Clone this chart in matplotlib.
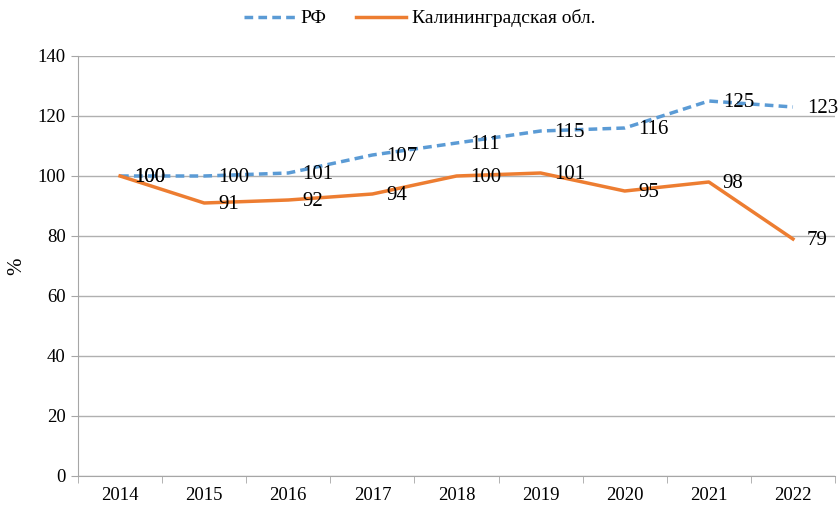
import matplotlib
matplotlib.use("Agg")
import matplotlib.pyplot as plt
import numpy as np

years = ["2014", "2015", "2016", "2017", "2018", "2019", "2020", "2021", "2022"]
rf = [100, 100, 101, 107, 111, 115, 116, 125, 123]
kal = [100, 91, 92, 94, 100, 101, 95, 98, 79]
rf_name = "РФ"
kal_name = "Калининградская обл."
yticks = [0, 20, 40, 60, 80, 100, 120, 140]

plt.rcParams['font.family'] = ['Liberation Serif', 'DejaVu Serif']

fig = plt.figure(figsize=(8.4, 5.07), dpi=100)
ax = fig.add_axes([78/840, 1-476/507, (835-78)/840, (476-56)/507])

x = np.arange(len(years))
blue = "#5B9BD5"
orange = "#ED7D31"
ax.plot(x, rf, color=blue, lw=2.5, ls=(0, (2.5, 1.5)), label=rf_name, zorder=3)
ax.plot(x, kal, color=orange, lw=2.5, label=kal_name, zorder=3)

for xi, v in zip(x, rf):
    ax.annotate(str(v), (xi, v), xytext=(10, -1), textcoords="offset points",
                ha="left", va="center", fontsize=15, zorder=4)
for xi, v in zip(x, kal):
    ax.annotate(str(v), (xi, v), xytext=(10, -1), textcoords="offset points",
                ha="left", va="center", fontsize=15, zorder=4)

ax.set_xlim(-0.5, len(years) - 0.5)
ax.set_ylim(0, 140)
ax.set_yticks(yticks)
ax.set_yticklabels([str(t) for t in yticks], fontsize=13.5)
ax.set_xticks(x)
ax.set_xticklabels(years, fontsize=13.5)
ax.set_xticks(np.arange(-0.5, len(years)), minor=True)
ax.tick_params(axis="x", which="major", length=0, pad=8)
ax.tick_params(axis="x", which="minor", length=5, color="#a6a6a6")
ax.tick_params(axis="y", length=5, color="#a6a6a6", pad=4)
ax.yaxis.grid(True, color="#b0b0b0", lw=1)
ax.set_axisbelow(True)
for s in ["top", "right"]:
    ax.spines[s].set_visible(False)
for s in ["left", "bottom"]:
    ax.spines[s].set_color("#a6a6a6")
ax.set_ylabel("%", fontsize=15, labelpad=8)

fig.legend(loc="upper center", bbox_to_anchor=(0.5, 1.016), ncol=2, frameon=False,
           fontsize=14, handlelength=2.6, handletextpad=0.3, columnspacing=1.5)

fig.savefig("out.png", dpi=100)
